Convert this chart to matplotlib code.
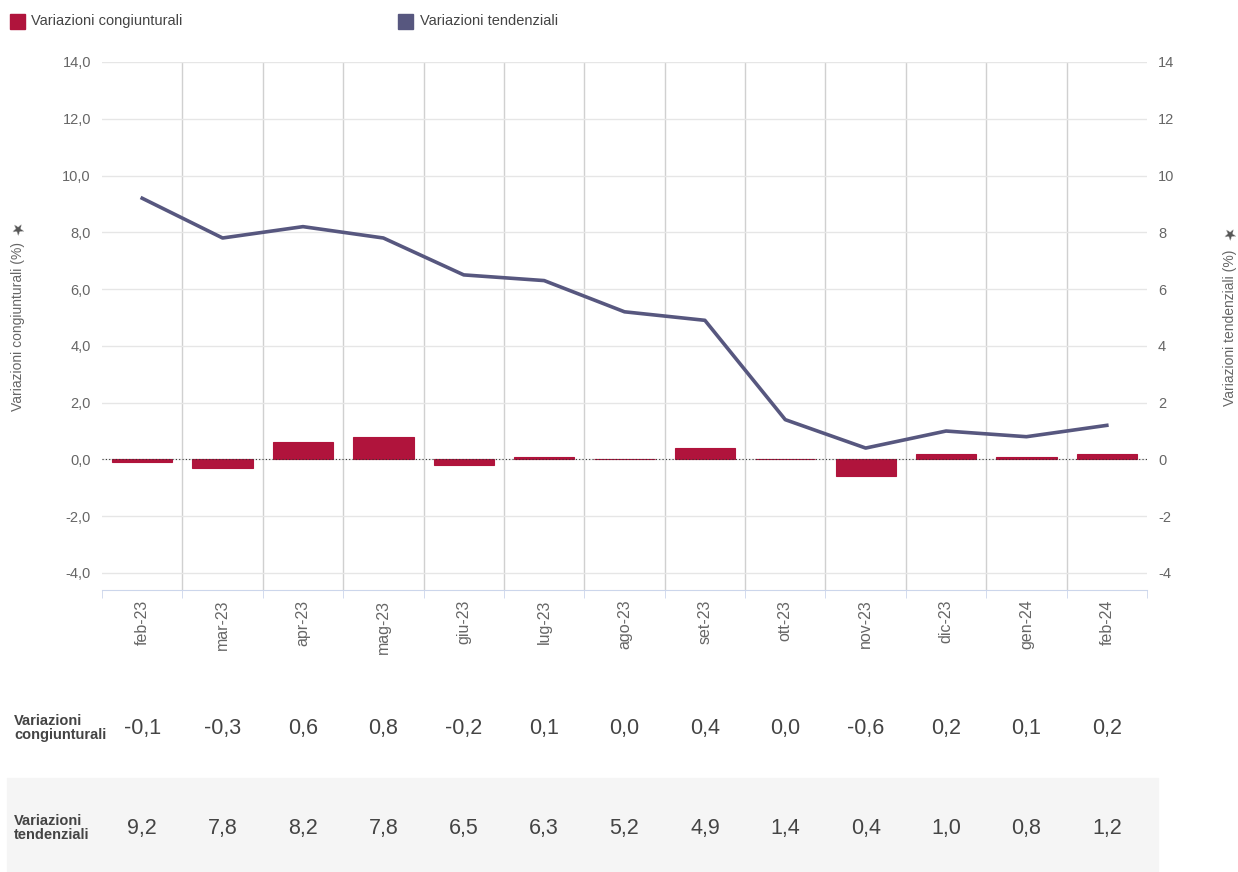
import numpy as np
import matplotlib.pyplot as plt
import matplotlib.transforms as mtransforms

plt.rcParams['font.family'] = ['Liberation Sans', 'DejaVu Sans']

months = ['feb-23', 'mar-23', 'apr-23', 'mag-23', 'giu-23', 'lug-23', 'ago-23',
          'set-23', 'ott-23', 'nov-23', 'dic-23', 'gen-24', 'feb-24']
congiunturali = [-0.1, -0.3, 0.6, 0.8, -0.2, 0.1, 0.0, 0.4, 0.0, -0.6, 0.2, 0.1, 0.2]
tendenziali = [9.2, 7.8, 8.2, 7.8, 6.5, 6.3, 5.2, 4.9, 1.4, 0.4, 1.0, 0.8, 1.2]

bar_color = '#b0143c'
line_color = '#57577f'
txt = '#666666'

fig = plt.figure(figsize=(12.38, 8.72), dpi=100)

# grey band behind second table row
fig.patches.append(plt.Rectangle((7 / 1238, 0), 1151 / 1238, 94 / 872,
                                 transform=fig.transFigure, color='#f5f5f5', zorder=-1))

ax = fig.add_axes([0.0824, 0.3234, 0.8441, 0.6055])
x = np.arange(len(months))

ax.bar(x, congiunturali, width=0.75, color=bar_color, edgecolor=bar_color,
       linewidth=0.8, zorder=3)
ax.axhline(0, color='#333333', lw=0.8, ls=(0, (1, 2)), zorder=4)

ax.set_xlim(-0.5, len(months) - 0.5)
ax.set_ylim(-4.6, 14)
yt = np.arange(-4, 15, 2)
ax.set_yticks(yt)
ax.set_yticklabels([f'{v:.1f}'.replace('.', ',') for v in yt], color=txt, fontsize=10.5)
ax.tick_params(axis='y', length=0, pad=8)
ax.grid(axis='y', color='#e6e6e6', lw=1, zorder=0)

# category boundaries: vertical grid + ticks
bounds = np.arange(-0.5, len(months), 1.0)
for b in bounds[1:-1]:
    ax.axvline(b, color='#d0d0d0', lw=1, zorder=1)
ax.set_xticks(bounds, minor=True)
ax.set_xticks(x)
ax.set_xticklabels(months, rotation=90, color=txt, fontsize=11.5)
ax.tick_params(axis='x', which='major', length=0, pad=7)
ax.tick_params(axis='x', which='minor', length=6, color='#ccd6eb')

for s in ['top', 'right', 'left']:
    ax.spines[s].set_visible(False)
ax.spines['bottom'].set_color('#ccd6eb')

ax2 = ax.twinx()
ax2.plot(x, tendenziali, color=line_color, lw=2.6, zorder=5)
ax2.set_ylim(-4.6, 14)
ax2.set_yticks(yt)
ax2.set_yticklabels([str(v) for v in yt], color=txt, fontsize=10.5)
ax2.tick_params(axis='y', length=0, pad=8)
for s in ax2.spines.values():
    s.set_visible(False)

# axis titles
fig.text(0.0145, 1 - 326 / 872, 'Variazioni congiunturali (%)', rotation=90, ha='center',
         va='center', color=txt, fontsize=10)
fig.text(0.0145, 1 - 228 / 872, '★', rotation=110, ha='center', va='center', color='#555555',
         fontsize=11, family='DejaVu Sans')
fig.text(0.9935, 1 - 328 / 872, 'Variazioni tendenziali (%)', rotation=90, ha='center',
         va='center', color=txt, fontsize=10)
fig.text(0.9935, 1 - 233 / 872, '★', rotation=110, ha='center', va='center', color='#555555',
         fontsize=11, family='DejaVu Sans')

# legend
fig.patches.append(plt.Rectangle((10 / 1238, 1 - 29 / 872), 15 / 1238, 15 / 872,
                                 transform=fig.transFigure, color=bar_color))
fig.text(31 / 1238, 1 - 21 / 872, 'Variazioni congiunturali', va='center',
         color='#444444', fontsize=10.5)
fig.patches.append(plt.Rectangle((398 / 1238, 1 - 29 / 872), 15 / 1238, 15 / 872,
                                 transform=fig.transFigure, color=line_color))
fig.text(420 / 1238, 1 - 21 / 872, 'Variazioni tendenziali', va='center',
         color='#444444', fontsize=10.5)

# data table under the chart
trans = mtransforms.blended_transform_factory(ax.transData, fig.transFigure)
rows = [('Variazioni\ncongiunturali', congiunturali, 1 - 728 / 872),
        ('Variazioni\ntendenziali', tendenziali, 1 - 828 / 872)]
for label, vals, yy in rows:
    fig.text(14 / 1238, yy, label, va='center', ha='left', fontweight='bold',
             color='#444444', fontsize=10.5, linespacing=1.0)
    for xi, v in zip(x, vals):
        fig.text(xi, yy, f'{v:.1f}'.replace('.', ','), transform=trans, ha='center',
                 va='center', color='#444444', fontsize=15.5)

fig.savefig('out.png', dpi=100)
